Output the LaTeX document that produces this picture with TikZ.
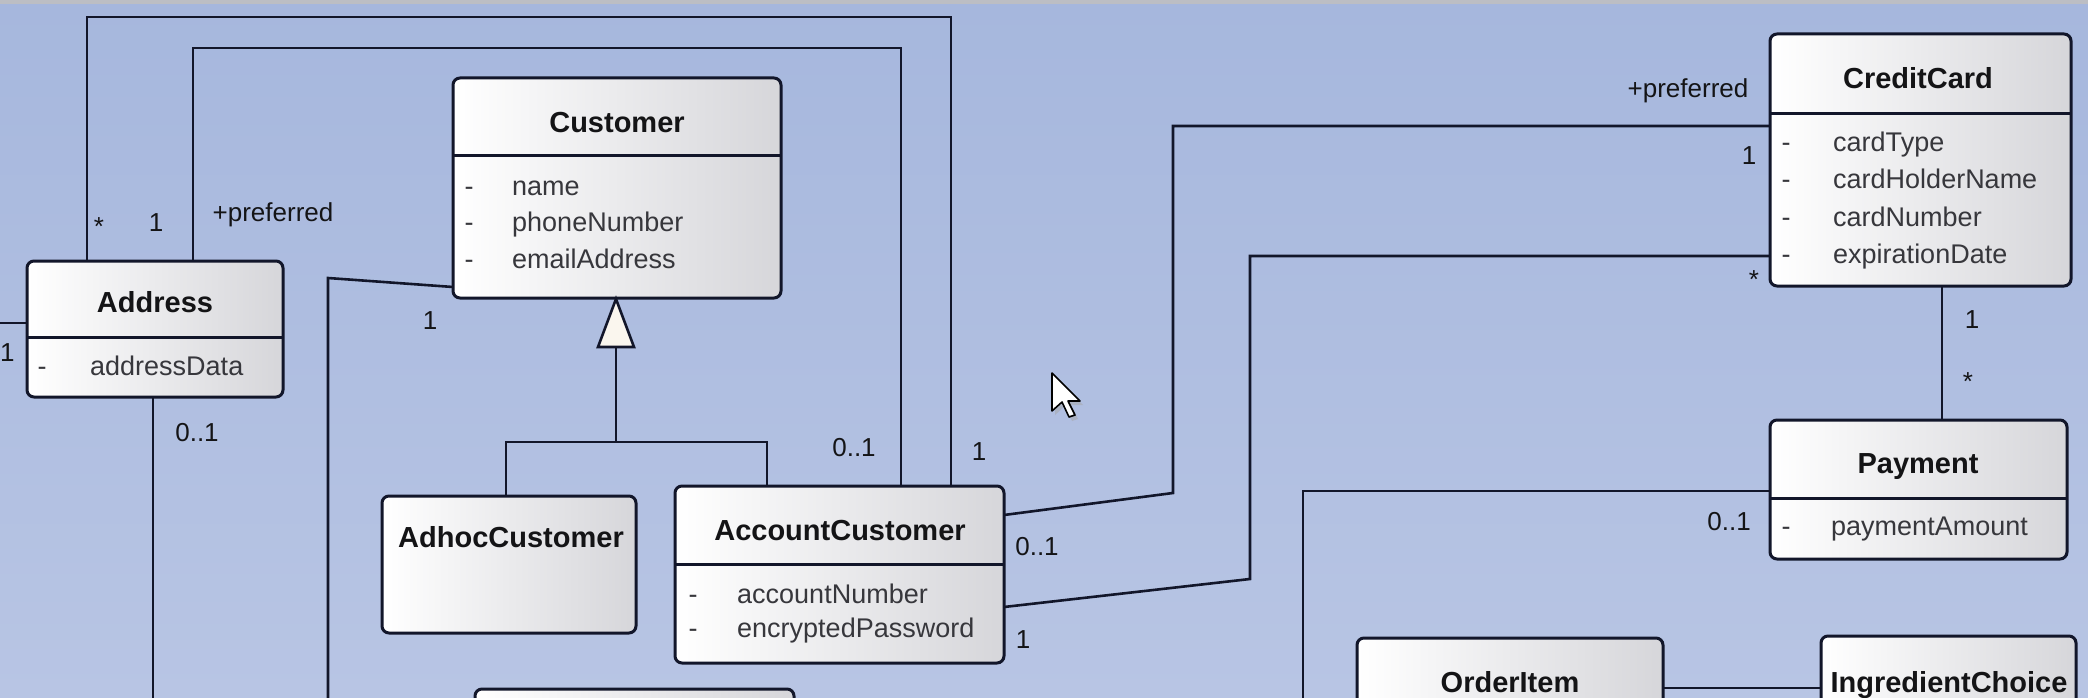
\documentclass[tikz,border=0pt]{standalone}
\usepackage{fontspec}
\setmainfont{Liberation Sans}
\definecolor{lc}{RGB}{18,22,42}
\definecolor{bgtop}{RGB}{166,183,221}
\definecolor{bgbot}{RGB}{184,197,228}
\definecolor{txtc}{RGB}{20,20,22}
\definecolor{attrc}{RGB}{55,55,60}
\definecolor{stripc}{RGB}{188,190,196}
\definecolor{tric}{RGB}{250,246,238}
\definecolor{boxr}{RGB}{214,214,218}
\pgfdeclarelayer{back}
\pgfdeclarelayer{lines}
\pgfsetlayers{back,lines,main}
\begin{document}
\begin{tikzpicture}[x=1pt,y=-1pt,
  classbox/.style={draw=lc, line width=3pt, rounded corners=7pt, left color=white, middle color=white, right color=boxr, inner sep=0pt, outer sep=0pt},
  divider/.style={draw=lc, line width=3pt},
  conn/.style={draw=lc, line width=2.6pt},
  cname/.style={font=\fontsize{29}{34}\selectfont\bfseries, text=txtc, anchor=base, inner sep=0pt},
  attrtext/.style={font=\fontsize{27}{32}\selectfont, text=attrc, anchor=base west, inner sep=0pt},
  vis/.style={font=\fontsize{27}{32}\selectfont, text=attrc, anchor=base, inner sep=0pt},
  mult/.style={font=\fontsize{26}{30}\selectfont, text=txtc, inner sep=0pt},
]
\useasboundingbox (0,0) rectangle (2088,698);
\clip (0,0) rectangle (2088,698);
\begin{pgfonlayer}{back}
\shade[top color=bgtop, bottom color=bgbot] (0,0) rectangle (2088,698);
\fill[stripc] (0,0) rectangle (2088,4);
\end{pgfonlayer}

% ---------- classes ----------
\node[classbox, minimum width=328pt, minimum height=220pt] (customer) at (617,188) {};
\node[classbox, minimum width=256pt, minimum height=136pt] (address) at (155,329) {};
\node[classbox, minimum width=254pt, minimum height=137pt] (adhoc) at (509,564.5) {};
\node[classbox, minimum width=329pt, minimum height=177pt] (acct) at (839.5,574.5) {};
\node[classbox, minimum width=301pt, minimum height=252pt] (cc) at (1920.5,160) {};
\node[classbox, minimum width=297pt, minimum height=139pt] (pay) at (1918.5,489.5) {};
\node[classbox, minimum width=306pt, minimum height=130pt] (oi) at (1510,703) {};
\node[classbox, minimum width=255pt, minimum height=130pt] (ic) at (1948.5,701) {};
\node[classbox, minimum width=319pt, minimum height=130pt] (bot) at (634.5,754) {};

\draw[divider] ([yshift=-78pt]customer.north west) -- ([yshift=-78pt]customer.north east);
\draw[divider] ([yshift=-76pt]address.north west) -- ([yshift=-76pt]address.north east);
\draw[divider] ([yshift=-78pt]acct.north west) -- ([yshift=-78pt]acct.north east);
\draw[divider] ([yshift=-80pt]cc.north west) -- ([yshift=-80pt]cc.north east);
\draw[divider] ([yshift=-78pt]pay.north west) -- ([yshift=-78pt]pay.north east);

% names
\node[cname] (customer-t) at (617,133) {Customer};
\node[cname] (address-t) at (155,312) {Address};
\node[cname] (adhoc-t) at (511,547) {AdhocCustomer};
\node[cname] (acct-t) at (840,540) {AccountCustomer};
\node[cname] (cc-t) at (1918,89) {CreditCard};
\node[cname] (pay-t) at (1918,473) {Payment};
\node[cname] (oi-t) at (1510,692) {OrderItem};
\node[cname] (ic-t) at (1949,692) {IngredientChoice};

% attributes
\node[vis] (cu-d1) at (469,195) {-}; \node[attrtext] (cu-a1) at (512,195) {name};
\node[vis] (cu-d2) at (469,231) {-}; \node[attrtext] (cu-a2) at (512,231) {phoneNumber};
\node[vis] (cu-d3) at (469,268) {-}; \node[attrtext] (cu-a3) at (512,268) {emailAddress};
\node[vis] (ad-d1) at (42,375) {-}; \node[attrtext] (ad-a1) at (90,375) {addressData};
\node[vis] (ac-d1) at (693,603) {-}; \node[attrtext] (ac-a1) at (737,603) {accountNumber};
\node[vis] (ac-d2) at (693,637) {-}; \node[attrtext] (ac-a2) at (737,637) {encryptedPassword};
\node[vis] (cc-d1) at (1786,152) {-}; \node[attrtext] (cc-a1) at (1833,152) {cardType};
\node[vis] (cc-d2) at (1786,188) {-}; \node[attrtext] (cc-a2) at (1833,188) {cardHolderName};
\node[vis] (cc-d3) at (1786,226) {-}; \node[attrtext] (cc-a3) at (1833,226) {cardNumber};
\node[vis] (cc-d4) at (1786,263) {-}; \node[attrtext] (cc-a4) at (1833,263) {expirationDate};
\node[vis] (pa-d1) at (1786,535) {-}; \node[attrtext] (pa-a1) at (1831,535) {paymentAmount};

% ---------- connectors ----------
\begin{pgfonlayer}{lines}
\coordinate (o1) at (87,17);
\coordinate (o2) at (951,17);
\draw[conn] ([xshift=60pt]address.north west) -- (o1) -- (o2) -- (o2 |- acct.north);
\coordinate (i1) at (193,48);
\coordinate (i2) at (901,48);
\draw[conn] ([xshift=166pt]address.north west) -- (i1) -- (i2) -- (i2 |- acct.north);
\coordinate (lft) at (0,323);
\draw[conn] (lft) -- (lft -| address.west);
\coordinate (ab) at (153,698);
\draw[conn] (ab |- address.south) -- (ab);
\coordinate (c1) at (328,278);
\coordinate (c2) at (328,698);
\draw[conn] ([yshift=11pt]customer.south west) -- (c1) -- (c2);
\coordinate (tb) at (616,347);
\coordinate (tj) at (616,442);
\coordinate (g1) at (506,442);
\coordinate (g2) at (767,442);
\draw[conn] (tb) -- (tj);
\draw[conn] (g1 |- adhoc.north) -- (g1) -- (g2) -- (g2 |- acct.north);
\coordinate (p1) at (1173,493);
\coordinate (p2) at (1173,126);
\draw[conn] ([yshift=-29pt]acct.north east) -- (p1) -- (p2) -- (p2 -| cc.west);
\coordinate (q1) at (1250,579);
\coordinate (q2) at (1250,256);
\draw[conn] ([yshift=-121pt]acct.north east) -- (q1) -- (q2) -- (q2 -| cc.west);
\coordinate (cp) at (1942,300);
\draw[conn] (cp |- cc.south) -- (cp |- pay.north);
\coordinate (r1) at (1303,491);
\coordinate (r2) at (1303,698);
\draw[conn] (r1 -| pay.west) -- (r1) -- (r2);
\coordinate (oic) at (1700,688);
\draw[conn] (oic -| oi.east) -- (oic -| ic.west);
\end{pgfonlayer}

% generalization triangle
\coordinate (tip) at (616,299);
\draw[draw=lc, line width=2.6pt, fill=tric, line join=miter] (tip) -- (598,347) -- (634,347) -- cycle;

% ---------- multiplicities / roles ----------
\node[mult] (m1) at (99,227) {*};
\node[mult] (m2) at (156,223) {1};
\node[mult] (m3) at (273,215) {+preferred};
\node[mult, anchor=west] (m4) at (0,353) {1};
\node[mult] (m5) at (197,433) {0..1};
\node[mult] (m6) at (430,321) {1};
\node[mult] (m7) at (854,448) {0..1};
\node[mult] (m8) at (979,452) {1};
\node[mult] (m9) at (1037,547) {0..1};
\node[mult] (m10) at (1023,640) {1};
\node[mult] (m11) at (1688,91) {+preferred};
\node[mult] (m12) at (1749,156) {1};
\node[mult] (m13) at (1754,280) {*};
\node[mult] (m14) at (1972,320) {1};
\node[mult] (m15) at (1968,382) {*};
\node[mult] (m16) at (1729,522) {0..1};

% mouse pointer
\fill[black!35, opacity=0.5, shift={(1055,377)}]
  (0,0) -- (0,38) -- (10,29) -- (17,44) -- (23,42) -- (16,28) -- (28,28) -- cycle;
\draw[fill=white, draw=black, line width=1.6pt, line join=round, shift={(1052,373)}]
  (0,0) -- (0,38) -- (10,29) -- (17,44) -- (23,42) -- (16,28) -- (28,28) -- cycle;
\end{tikzpicture}
\end{document}
